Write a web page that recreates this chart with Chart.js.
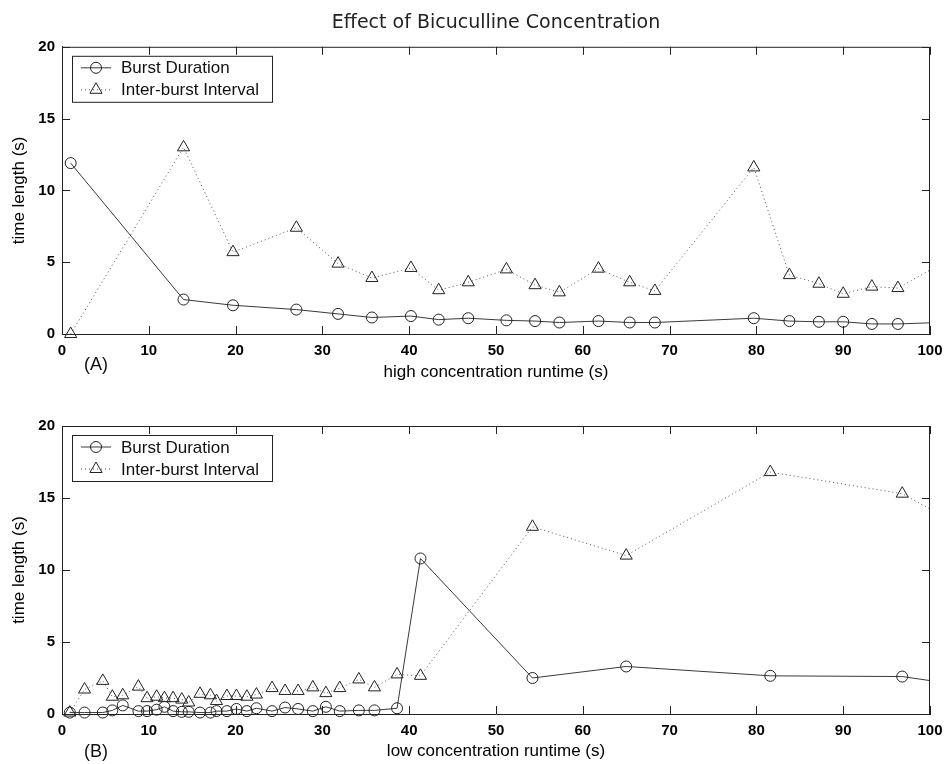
<!DOCTYPE html>
<html lang="en">
<head>
<meta charset="UTF-8">
<title>Effect of Bicuculline Concentration</title>
<script src="https://cdn.jsdelivr.net/npm/chart.js@4.4.0/dist/chart.umd.min.js"></script>
<style>
    * { margin: 0; padding: 0; box-sizing: border-box; }
    body { width: 944px; height: 764px; background: #fff; overflow: hidden; }
    .panel { position: absolute; left: 0; width: 944px; }
    #top { top: 0; height: 384px; }
    #bottom { top: 384px; height: 380px; }
</style>
</head>
<body>
<div class="panel" id="top"><canvas id="chartA"></canvas></div>
<div class="panel" id="bottom"><canvas id="chartB"></canvas></div>

<script>
// (A) high concentration - runtime (s) and lengths (s)
const hiTime     = [1.0, 14.0, 19.7, 27.0, 31.8, 35.7, 40.2, 43.4, 46.8, 51.2, 54.5, 57.3, 61.8, 65.4, 68.3, 79.7, 83.8, 87.2, 90.0, 93.3, 96.3, 102.5]
const hiBurst    = [11.9, 2.4, 2.0, 1.7, 1.4, 1.15, 1.25, 1.0, 1.1, 0.95, 0.9, 0.8, 0.9, 0.8, 0.8, 1.1, 0.9, 0.85, 0.85, 0.7, 0.7, 0.83]
const hiInterval = [0, 13.0, 5.7, 7.4, 4.9, 3.9, 4.6, 3.05, 3.6, 4.5, 3.4, 2.9, 4.55, 3.6, 3.0, 11.6, 4.1, 3.5, 2.8, 3.3, 3.2, 5.3]

// (B) low concentration
const loTime     = [0.9, 2.6, 4.7, 5.8, 7.0, 8.8, 9.8, 10.9, 11.8, 12.8, 13.8, 14.6, 15.9, 17.1, 17.8, 19.0, 20.1, 21.3, 22.4, 24.2, 25.7, 27.2, 28.9, 30.4, 32.0, 34.2, 36.0, 38.6, 41.3, 54.2, 65.0, 81.6, 96.8, 102.5]
const loBurst    = [0.1, 0.1, 0.1, 0.25, 0.6, 0.2, 0.2, 0.3, 0.5, 0.2, 0.15, 0.15, 0.1, 0.1, 0.2, 0.2, 0.35, 0.2, 0.4, 0.2, 0.45, 0.35, 0.2, 0.5, 0.2, 0.25, 0.25, 0.4, 10.8, 2.5, 3.3, 2.65, 2.6, 2.1]
const loInterval = [0.1, 1.7, 2.3, 1.2, 1.3, 1.9, 1.1, 1.2, 1.1, 1.1, 1.0, 0.8, 1.4, 1.3, 0.9, 1.25, 1.25, 1.2, 1.35, 1.8, 1.6, 1.6, 1.85, 1.45, 1.8, 2.4, 1.85, 2.75, 2.65, 13.0, 11.0, 16.8, 15.3, 13.4]

const seriesNames = ['Burst Duration', 'Inter-burst Interval']
const xTicks = { min: 0, max: 100, step: 10 }
const yTicks = { min: 0, max: 20, step: 5 }

const SANS = "'Liberation Sans', Arial, Helvetica, sans-serif"
Chart.defaults.font.family = SANS
Chart.defaults.color = '#111'

function drawMarker(ctx, style, x, y, r) {
    ctx.beginPath()
    if (style === 'circle') {
        ctx.arc(x, y, r, 0, Math.PI * 2)
    } else {
        ctx.moveTo(x, y - r)
        ctx.lineTo(x + 0.866 * r, y + 0.5 * r)
        ctx.lineTo(x - 0.866 * r, y + 0.5 * r)
        ctx.closePath()
    }
    ctx.stroke()
}

// box, inward ticks, legend and (A)/(B) tag, matlab style
const panelFrame = {
    id: 'panelFrame',
    afterDraw(chart, args, opts) {
        const ctx = chart.ctx
        const a = chart.chartArea
        const xs = chart.scales.x, ys = chart.scales.y
        ctx.save()
        ctx.strokeStyle = '#222'
        ctx.lineWidth = 1
        ctx.setLineDash([])

        ctx.beginPath()
        ctx.moveTo(a.left, a.top + 0.5)
        ctx.lineTo(a.right - 0.5, a.top + 0.5)
        ctx.lineTo(a.right - 0.5, a.bottom)
        ctx.stroke()

        const tl = 8
        ctx.beginPath()
        xs.ticks.forEach(t => {
            const px = Math.round(xs.getPixelForValue(t.value)) + 0.5
            ctx.moveTo(px, a.bottom); ctx.lineTo(px, a.bottom - tl)
            ctx.moveTo(px, a.top); ctx.lineTo(px, a.top + tl)
        })
        ys.ticks.forEach(t => {
            const py = Math.round(ys.getPixelForValue(t.value)) + 0.5
            ctx.moveTo(a.left, py); ctx.lineTo(a.left + tl, py)
            ctx.moveTo(a.right, py); ctx.lineTo(a.right - tl, py)
        })
        ctx.stroke()

        // legend
        const lx = a.left + 10, ly = a.top + 9, lw = 200, lh = 46
        ctx.fillStyle = '#fff'
        ctx.fillRect(lx, ly, lw, lh)
        ctx.strokeRect(lx + 0.5, ly + 0.5, lw, lh)
        ctx.font = '17px ' + SANS
        ctx.textBaseline = 'middle'
        chart.data.datasets.forEach((ds, i) => {
            const y = ly + 12 + i * 22
            ctx.strokeStyle = ds.borderColor
            ctx.setLineDash(ds.borderDash || [])
            ctx.beginPath()
            ctx.moveTo(lx + 9, y); ctx.lineTo(lx + 39, y)
            ctx.stroke()
            ctx.setLineDash([])
            ctx.strokeStyle = ds.pointBorderColor
            drawMarker(ctx, ds.pointStyle, lx + 24, y, ds.pointRadius)
            ctx.fillStyle = '#111'
            ctx.fillText(ds.label, lx + 49, y + 1)
        })

        ctx.font = '18px ' + SANS
        ctx.textAlign = 'center'
        ctx.fillStyle = '#111'
        ctx.fillText(opts.tag, 96, opts.tagY)
        ctx.restore()
    }
}

function makePanel(id, p) {
    const pts = (xv, yv) => xv.map((x, i) => ({ x: x, y: yv[i] }))
    const clip = { left: 12, top: 12, right: 0, bottom: 12 }
    return new Chart(document.getElementById(id), {
        type: 'line',
        data: {
            datasets: [{
                label: seriesNames[0],
                data: pts(p.time, p.burst),
                borderColor: '#3a3a3a',
                borderWidth: 1,
                pointStyle: 'circle',
                pointRadius: 5.5,
                pointBorderColor: '#222',
                pointBackgroundColor: 'transparent',
                pointBorderWidth: 1,
                clip: clip
            }, {
                label: seriesNames[1],
                data: pts(p.time, p.interval),
                borderColor: '#555',
                borderWidth: 1,
                borderDash: [1, 3],
                pointStyle: 'triangle',
                pointRadius: 7,
                pointBorderColor: '#222',
                pointBackgroundColor: 'transparent',
                pointBorderWidth: 1,
                clip: clip
            }]
        },
        options: {
            responsive: true,
            maintainAspectRatio: false,
            animation: false,
            events: [],
            layout: { padding: { top: p.padTop, right: 14, left: 0, bottom: 0 } },
            plugins: {
                legend: { display: false },
                tooltip: { enabled: false },
                title: p.title ? {
                    display: true,
                    text: p.title,
                    fullSize: false,
                    color: '#222',
                    font: { family: "'DejaVu Sans', " + SANS, size: 19, weight: 'normal' },
                    padding: { top: 12, bottom: 12 }
                } : { display: false },
                panelFrame: { tag: p.tag, tagY: p.tagY }
            },
            scales: {
                x: {
                    type: 'linear',
                    min: xTicks.min, max: xTicks.max,
                    afterFit: s => { s.height = 50; s.paddingLeft = 0; s.paddingRight = 0 },
                    grid: { display: false, drawTicks: false },
                    border: { display: true, color: '#222', width: 1 },
                    ticks: { stepSize: xTicks.step, padding: 8, maxRotation: 0, color: '#000', font: { size: 15, weight: 'bold' } },
                    title: { display: true, text: p.xTitle, color: '#000', font: { size: 17 }, padding: { top: 0, bottom: p.xTitlePad } }
                },
                y: {
                    min: yTicks.min, max: yTicks.max,
                    afterFit: s => { s.width = 62 },
                    grid: { display: false, drawTicks: false },
                    border: { display: true, color: '#222', width: 1 },
                    ticks: { stepSize: yTicks.step, padding: 7, color: '#000', font: { size: 15, weight: 'bold' } },
                    title: { display: true, text: 'time length (s)', color: '#000', font: { size: 17 }, padding: { top: 9, bottom: 0 } }
                }
            }
        },
        plugins: [panelFrame]
    })
}

makePanel('chartA', {
    time: hiTime, burst: hiBurst, interval: hiInterval,
    title: 'Effect of Bicuculline Concentration',
    padTop: 0, xTitle: 'high concentration runtime (s)', xTitlePad: 1,
    tag: '(A)', tagY: 365
})
makePanel('chartB', {
    time: loTime, burst: loBurst, interval: loInterval,
    title: null,
    padTop: 42, xTitle: 'low concentration runtime (s)', xTitlePad: 2,
    tag: '(B)', tagY: 368
})
</script>
</body>
</html>
